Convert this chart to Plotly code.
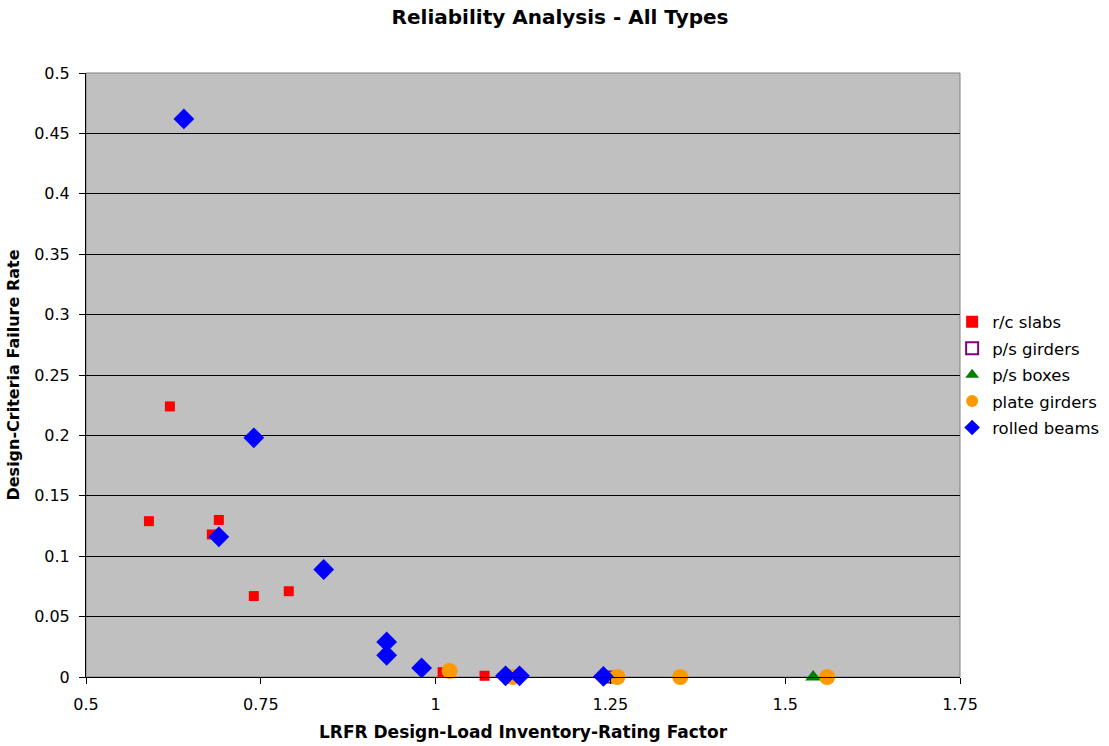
import plotly.graph_objects as go

# r/c slabs
rc_x = [0.62, 0.59, 0.69, 0.68, 0.74, 0.79, 1.01, 1.07]
rc_y = [0.224, 0.129, 0.130, 0.118, 0.067, 0.071, 0.004, 0.001]
# p/s girders
psg_x = [1.25]
psg_y = [0.0]
# p/s boxes
psb_x = [1.54]
psb_y = [0.0]
# plate girders
pg_x = [1.02, 1.11, 1.26, 1.35, 1.56]
pg_y = [0.005, 0.0, 0.0, 0.0, 0.0]
# rolled beams
rb_x = [0.64, 0.74, 0.69, 0.84, 0.93, 0.93, 0.98, 1.10, 1.12, 1.24]
rb_y = [0.462, 0.198, 0.116, 0.089, 0.029, 0.018, 0.0075, 0.001, 0.001, 0.0005]

x_ticks = [0.5, 0.75, 1, 1.25, 1.5, 1.75]
x_tick_labels = ["0.5", "0.75", "1", "1.25", "1.5", "1.75"]
y_ticks = [0, 0.05, 0.1, 0.15, 0.2, 0.25, 0.3, 0.35, 0.4, 0.45, 0.5]
y_tick_labels = ["0", "0.05", "0.1", "0.15", "0.2", "0.25", "0.3", "0.35", "0.4", "0.45", "0.5"]

FONT = "DejaVu Sans, Verdana, sans-serif"

fig = go.Figure()
fig.add_trace(go.Scatter(x=rc_x, y=rc_y, mode="markers", name="r/c slabs", cliponaxis=False,
                         legendgroup="a",
                         marker=dict(symbol="square", size=10, color="#FF0000")))
fig.add_trace(go.Scatter(x=psg_x, y=psg_y, mode="markers", name="p/s girders", cliponaxis=False,
                         legendgroup="b",
                         marker=dict(symbol="square-open", size=11, color="#800080",
                                     line=dict(width=2, color="#800080"))))
fig.add_trace(go.Scatter(x=psb_x, y=psb_y, mode="markers", name="p/s boxes", cliponaxis=False,
                         legendgroup="c",
                         marker=dict(symbol="triangle-up", size=14, color="#008000")))
fig.add_trace(go.Scatter(x=pg_x, y=pg_y, mode="markers", name="plate girders", cliponaxis=False,
                         legendgroup="d",
                         marker=dict(symbol="circle", size=16, color="#FF9900")))
fig.add_trace(go.Scatter(x=rb_x, y=rb_y, mode="markers", name="rolled beams", cliponaxis=False,
                         legendgroup="e",
                         marker=dict(symbol="diamond", size=16, color="#0000FF")))

fig.update_layout(
    width=1109, height=746,
    margin=dict(l=86, r=149, t=73, b=69, autoexpand=False),
    paper_bgcolor="white",
    plot_bgcolor="#C0C0C0",
    font=dict(family=FONT, size=15, color="black"),
    title=dict(text="<b>Reliability Analysis - All Types</b>", x=0.505, xanchor="center",
               y=0.977, yanchor="middle", font=dict(family=FONT, size=20, color="black")),
    showlegend=True,
    legend=dict(x=0.991, y=0.5, xanchor="left", yanchor="middle", itemsizing="constant",
                font=dict(family=FONT, size=16.5, color="black"), traceorder="grouped",
                bgcolor="rgba(0,0,0,0)", itemwidth=30, tracegroupgap=2),
    xaxis=dict(range=[0.5, 1.75], tickvals=x_ticks, ticktext=x_tick_labels,
               showgrid=False, zeroline=False, showline=True, linecolor="black", linewidth=1,
               ticks="outside", ticklen=6, tickcolor="black", mirror=False, automargin=False,
               ticklabelstandoff=7,
               tickfont=dict(family=FONT, size=16),
               title=dict(text="<b>LRFR Design-Load Inventory-Rating Factor</b>",
                          font=dict(family=FONT, size=17), standoff=12)),
    yaxis=dict(range=[0, 0.5], tickvals=y_ticks, ticktext=y_tick_labels,
               showgrid=True, gridcolor="black", gridwidth=1, zeroline=False,
               showline=True, linecolor="black", linewidth=1, automargin=False,
               ticks="outside", ticklen=6, tickcolor="black",
               ticklabelstandoff=6,
               tickfont=dict(family=FONT, size=16),
               title=dict(text="<b>Design-Criteria Failure Rate</b>",
                          font=dict(family=FONT, size=16), standoff=10)),
)

# gray frame on right/top
fig.add_shape(type="rect", xref="paper", yref="paper", x0=0, y0=0, x1=1, y1=1,
              line=dict(color="#808080", width=1), layer="below")

fig.write_html("out.html")
